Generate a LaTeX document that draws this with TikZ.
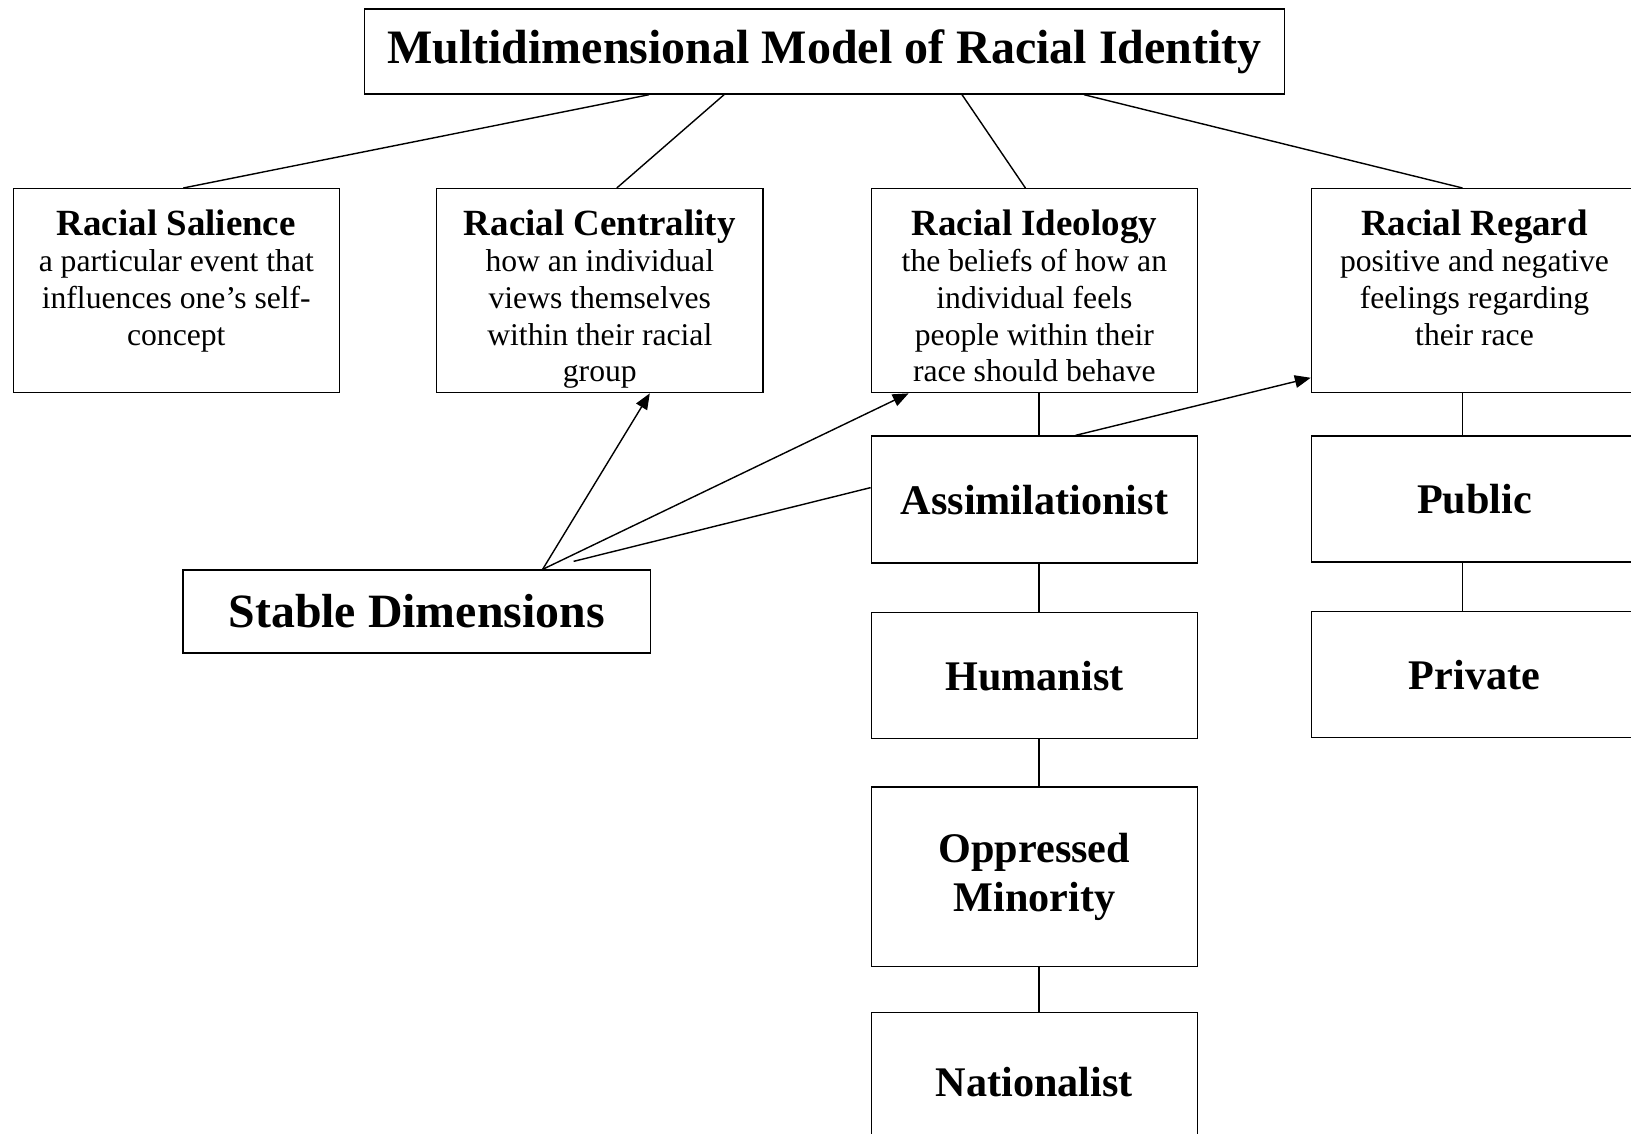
\documentclass[tikz,border=0pt]{standalone}
\usepackage{fontspec}
\setmainfont{Liberation Serif}
\usepackage{tikz}
\usetikzlibrary{positioning,arrows.meta,calc}

\begin{document}
\begin{tikzpicture}[x=0.01cm, y=-0.01cm,
  titlebox/.style={rectangle, draw, minimum width=9.19cm, minimum height=0.85cm,
                   font=\fontsize{13.65}{16}\selectfont\bfseries},
  concept/.style={rectangle, draw, anchor=north west, inner xsep=0pt, inner ysep=6pt,
                  font=\fontsize{9}{10.4}\selectfont},
  level/.style={rectangle, draw, minimum width=3.26cm, align=center,
                font=\fontsize{12}{13.9}\selectfont\bfseries},
  arrow/.style={-{Triangle[length=4.5pt,width=3.6pt]}},
]
\clip (0,0) rectangle (1631,1134);

% Title
\node[titlebox] (model) at (824.5,51.5) {Multidimensional Model of Racial Identity};

% Four dimensions
\node[concept] (sal) at (12.5,188) {\parbox[t][46pt][t]{3.26cm}{\centering
  {\bfseries\fontsize{10.5}{10.4}\selectfont Racial Salience}\\
  a particular event that\\ influences one's self-\\ concept}};
\node[concept] (cent) at (436,188) {\parbox[t][46pt][t]{3.26cm}{\centering
  {\bfseries\fontsize{10.5}{10.4}\selectfont Racial Centrality}\\
  how an individual\\ views themselves\\ within their racial\\ group}};
\node[concept] (ideo) at (870.6,188) {\parbox[t][46pt][t]{3.26cm}{\centering
  {\bfseries\fontsize{10.5}{10.4}\selectfont Racial Ideology}\\
  the beliefs of how an\\ individual feels\\ people within their\\ race should behave}};
\node[concept] (reg) at (1310.7,188) {\parbox[t][46pt][t]{3.26cm}{\centering
  {\bfseries\fontsize{10.5}{10.4}\selectfont Racial Regard}\\
  positive and negative\\ feelings regarding\\ their race}};

% Ideology stack
\node[level, minimum height=1.27cm, below=0.42cm of ideo] (assim) {Assimilationist};
\node[level, minimum height=1.26cm, below=0.48cm of assim] (hum) {Humanist};
\node[level, minimum height=1.79cm, below=0.47cm of hum] (opp) {Oppressed\\Minority};
\node[level, minimum height=1.38cm, below=0.45cm of opp] (nat) {Nationalist};

% Regard stack
\node[level, minimum height=1.26cm, below=0.42cm of reg] (pub) {Public};
\node[level, minimum height=1.26cm, below=0.48cm of pub] (priv) {Private};

% Stable dimensions
\node[rectangle, draw, minimum width=4.67cm, minimum height=0.83cm,
      font=\fontsize{13.6}{16}\selectfont\bfseries] (stable) at (416.6,611.6) {Stable Dimensions};

% Title to dimensions
\draw ($(model.south west)+(285,0)$) -- ($(sal.north)+(7,0)$);
\draw ($(model.south west)+(360,0)$) -- ($(cent.north)+(17,0)$);
\draw ($(model.south west)+(598,0)$) -- ($(ideo.north)+(-9,0)$);
\draw ($(model.south west)+(720,0)$) -- ($(reg.north)+(-12,0)$);

% Stable dimensions arrows
\draw[arrow] ($(stable.north)+(126,0)$) -- ($(cent.south)+(50,0)$);
\draw[arrow] ($(stable.north)+(126,0)$) -- ($(ideo.south west)+(38,0)$);
\draw ($(stable.north)+(157,-8)$) -- ($(assim.west)+(0,-12)$);
\draw[arrow] ($(assim.north)+(41,0)$) -- ($(reg.south west)+(0,-15.6)$);

% Vertical links
\foreach \a/\b in {ideo/assim, assim/hum, hum/opp, opp/nat}
  \draw ($(\a.south)+(4.6,0)$) -- ($(\b.north)+(4.6,0)$);
\foreach \a/\b in {reg/pub, pub/priv}
  \draw ($(\a.south)+(-12,0)$) -- ($(\b.north)+(-12,0)$);

\end{tikzpicture}
\end{document}
